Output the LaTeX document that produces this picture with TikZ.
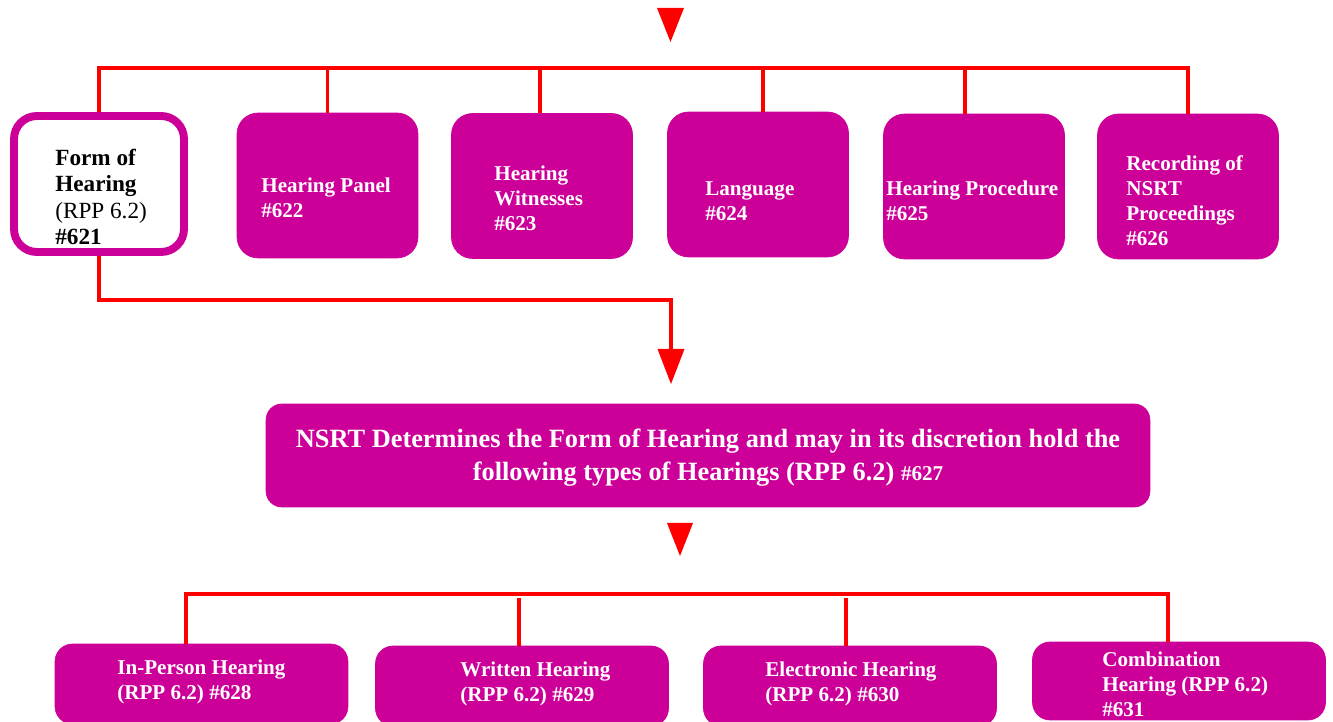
\documentclass[tikz,border=0pt]{standalone}
\usepackage{fontspec}
\setmainfont{Liberation Serif}
\usepackage{xcolor}
\usetikzlibrary{positioning, calc}
\definecolor{nsrtpink}{RGB}{204,0,153}

\begin{document}
\begin{tikzpicture}[%
  x=0.02cm, y=-0.02cm,
  box/.style={fill=nsrtpink, draw=nsrtpink, rounded corners=12pt, minimum width=3.62cm, minimum height=2.9cm, inner sep=0pt},
  formbox/.style={fill=white, draw=nsrtpink, line width=4.5pt, rounded corners=13pt, minimum width=3.4cm, minimum height=2.72cm, inner sep=0pt},
  bigbox/.style={fill=nsrtpink, draw=nsrtpink, rounded corners=9pt, minimum width=17.68cm, minimum height=2.06cm, inner sep=0pt},
  lowbox/.style={fill=nsrtpink, draw=nsrtpink, rounded corners=10pt, minimum width=5.86cm, minimum height=1.6cm, inner sep=0pt},
  txt/.style={text=white, font=\bfseries\fontsize{12}{14.2}\selectfont, align=left, anchor=west, inner sep=0pt},
  bigtxt/.style={text=white, font=\bfseries\fontsize{15}{18.7}\selectfont, align=center, inner sep=0pt},
  link/.style={draw=red, line width=2.1pt},
  tri/.style={fill=red}
]
\useasboundingbox (0,0) rectangle (1333,722);
\clip (0,0) rectangle (1333,722);

% Incoming arrow
\coordinate (top1) at (670.5,8);
\fill[tri] (top1) -- ++(13.5,0) -- ++(-13.5,34) -- ++(-13.5,-34) -- cycle;

% Top row
\node[formbox] (form) at (99,184) {};
\node[box] (panel) at (327.5,185.5) {};
\node[box] (witness) at (542,186) {};
\node[box] (lang) at (758,184.5) {};
\node[box] (proc) at (974,186.5) {};
\node[box] (rec) at (1188,186.5) {};

\node[txt, text=black, font=\bfseries\fontsize{13.2}{15.1}\selectfont] (t621) at (55,197) {Form of\\Hearing\\{\mdseries (RPP 6.2)}\\\#621};
\node[txt] (t622) at (261,197.5) {Hearing Panel\\\#622};
\node[txt] (t623) at (494,198) {Hearing\\Witnesses\\\#623};
\node[txt] (t624) at (705,201) {Language\\\#624};
\node[txt] (t625) at (886,201) {Hearing Procedure\\\#625};
\node[txt] (t626) at (1126,201) {Recording of\\NSRT\\Proceedings\\\#626};

% Top bus
\coordinate (bus) at (0,68);
\draw[link] (form.north) -- (form.north |- bus) -| (rec.north);
\draw[link] (panel.north) -- (panel.north |- bus);
\draw[link] ([xshift=-0.04cm]witness.north) -- ([xshift=-0.04cm]witness.north |- bus);
\draw[link] ([xshift=0.1cm]lang.north) -- ([xshift=0.1cm]lang.north |- bus);
\draw[link] ([xshift=-0.18cm]proc.north) -- ([xshift=-0.18cm]proc.north |- bus);

% Form of Hearing -> NSRT
\coordinate (elbow) at (0,300);
\coordinate (top2) at (671,349);
\draw[link] (form.south) -- (form.south |- elbow) -| (top2);
\fill[tri] (top2) -- ++(13.5,0) -- ++(-13.5,35) -- ++(-13.5,-35) -- cycle;

\node[bigbox] (nsrt) at (708,455.5) {};
\node[bigtxt] (t627) at (708,458) {NSRT Determines the Form of Hearing and may in its discretion hold the\\following types of Hearings (RPP 6.2) {\fontsize{12}{14}\selectfont\#627}};

\coordinate (top3) at (680,523);
\fill[tri] (top3) -- ++(13,0) -- ++(-13,33) -- ++(-13,-33) -- cycle;

% Bottom row
\node[lowbox] (inperson) at (201.5,684) {};
\node[lowbox] (written) at (522,686) {};
\node[lowbox] (electronic) at (850,686) {};
\node[lowbox, minimum height=1.56cm] (combo) at (1179,681) {};

\node[txt] (t628) at (117,682) {In-Person Hearing\\(RPP 6.2) \#628};
\node[txt] (t629) at (460,684) {Written Hearing\\(RPP 6.2) \#629};
\node[txt] (t630) at (765,684) {Electronic Hearing\\(RPP 6.2) \#630};
\node[txt] (t631) at (1102,684) {Combination\\Hearing (RPP 6.2)\\\#631};

% Bottom bus
\coordinate (bus2) at (0,594);
\draw[link] ([xshift=-0.31cm]inperson.north) -- ([xshift=-0.31cm]inperson.north |- bus2) -| ([xshift=-0.22cm]combo.north);
\draw[link] ([xshift=-0.06cm]written.north) -- ([xshift=-0.06cm,yshift=-0.08cm]written.north |- bus2);
\draw[link] ([xshift=-0.08cm]electronic.north) -- ([xshift=-0.08cm,yshift=-0.08cm]electronic.north |- bus2);
\end{tikzpicture}
\end{document}
